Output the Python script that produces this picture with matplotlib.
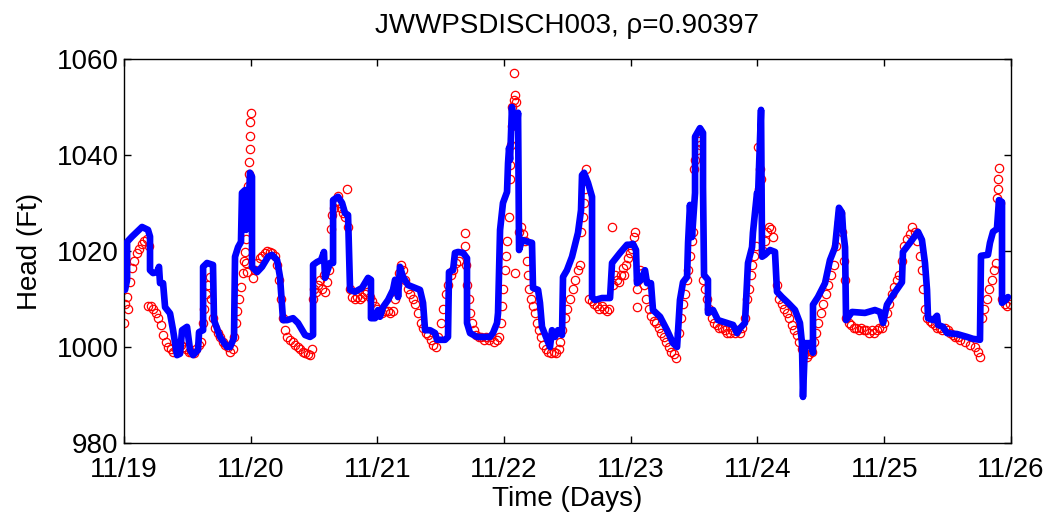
import numpy as np
import matplotlib
matplotlib.use("Agg")
import matplotlib.pyplot as plt

plt.rcParams['font.family'] = ['Liberation Sans', 'DejaVu Sans']

# Tick labels (days since 11/19)
day_ticks = [0, 1, 2, 3, 4, 5, 6, 7]
day_labels = ['11/19', '11/20', '11/21', '11/22', '11/23', '11/24', '11/25', '11/26']

# Model head (blue line): time in days, head in ft
model_t = [0.008, 0.024, 0.024, 0.063, 0.142, 0.189, 0.205, 0.205, 0.229, 0.260, 0.276,
           0.284, 0.308, 0.324, 0.363, 0.387, 0.418, 0.442, 0.458, 0.497, 0.521, 0.545,
           0.584, 0.592, 0.624, 0.624, 0.655, 0.702, 0.710, 0.758, 0.813, 0.837, 0.868,
           0.876, 0.900, 0.923, 0.931, 0.955, 0.963, 0.979, 0.994, 1.010, 1.010, 1.050,
           1.089, 1.137, 1.168, 1.208, 1.231, 1.255, 1.287, 1.334, 1.373, 1.429, 1.468,
           1.492, 1.492, 1.523, 1.555, 1.578, 1.586, 1.626, 1.650, 1.650, 1.689, 1.721,
           1.744, 1.768, 1.784, 1.823, 1.878, 1.926, 1.949, 1.949, 1.981, 2.005, 2.020,
           2.044, 2.084, 2.123, 2.139, 2.155, 2.163, 2.178, 2.202, 2.242, 2.336, 2.360,
           2.376, 2.415, 2.455, 2.470, 2.534, 2.557, 2.565, 2.597, 2.612, 2.636, 2.676,
           2.707, 2.707, 2.731, 2.786, 2.889, 2.912, 2.944, 2.952, 2.968, 2.991, 3.023,
           3.031, 3.039, 3.047, 3.062, 3.070, 3.102, 3.110, 3.118, 3.141, 3.189, 3.220,
           3.228, 3.268, 3.283, 3.299, 3.339, 3.362, 3.378, 3.402, 3.425, 3.457, 3.465,
           3.496, 3.536, 3.583, 3.607, 3.615, 3.631, 3.662, 3.694, 3.694, 3.717, 3.773,
           3.836, 3.852, 3.915, 3.970, 3.994, 4.017, 4.041, 4.049, 4.081, 4.112, 4.128,
           4.159, 4.175, 4.231, 4.286, 4.333, 4.365, 4.373, 4.388, 4.412, 4.444, 4.452,
           4.467, 4.483, 4.507, 4.507, 4.546, 4.570, 4.570, 4.578, 4.609, 4.609, 4.649,
           4.688, 4.759, 4.807, 4.838, 4.862, 4.901, 4.925, 4.957, 4.964, 4.996, 5.004,
           5.028, 5.036, 5.059, 5.099, 5.138, 5.154, 5.193, 5.241, 5.296, 5.335, 5.351,
           5.359, 5.375, 5.414, 5.438, 5.438, 5.477, 5.533, 5.572, 5.612, 5.643, 5.667,
           5.675, 5.691, 5.699, 5.746, 5.848, 5.927, 5.967, 5.991, 6.022, 6.069, 6.140,
           6.148, 6.203, 6.267, 6.298, 6.322, 6.338, 6.346, 6.385, 6.417, 6.425, 6.464,
           6.496, 6.575, 6.654, 6.701, 6.756, 6.764, 6.819, 6.835, 6.859, 6.890, 6.906,
           6.930, 6.930, 6.961, 6.977]
model_h = [1011.9, 1014.0, 1021.9, 1023.0, 1025.0, 1024.4, 1023.0, 1016.0, 1015.4, 1015.6, 1016.7,
           1013.3, 1013.3, 1008.3, 1007.0, 1003.5, 998.3, 998.6, 1003.5, 1004.2, 999.4, 998.3,
           999.4, 1003.1, 1003.5, 1016.7, 1017.5, 1017.1, 1005.6, 1002.1, 1000.0, 1000.0, 1001.9,
           1018.8, 1020.8, 1021.9, 1032.1, 1032.7, 1024.4, 1025.2, 1036.3, 1035.5, 1016.7, 1015.6,
           1016.7, 1018.8, 1019.2, 1018.1, 1014.6, 1005.6, 1005.6, 1006.0, 1005.0, 1002.5, 1002.1,
           1002.5, 1017.1, 1017.7, 1018.1, 1019.8, 1014.4, 1017.5, 1017.5, 1030.6, 1031.3, 1030.0,
           1027.9, 1027.5, 1011.9, 1011.5, 1012.3, 1014.4, 1014.0, 1006.0, 1006.0, 1007.7, 1006.3,
           1008.3, 1009.8, 1011.9, 1014.0, 1013.8, 1010.4, 1016.7, 1014.6, 1012.9, 1011.9, 1009.2,
           1003.5, 1003.5, 1002.9, 1001.5, 1001.5, 1002.1, 1015.6, 1016.0, 1019.6, 1019.8, 1019.6,
           1018.5, 1005.0, 1002.9, 1002.1, 1002.1, 1002.9, 1005.0, 1007.1, 1024.4, 1030.0, 1032.3,
           1038.3, 1041.5, 1039.0, 1050.0, 1045.8, 1046.2, 1048.8, 1020.2, 1022.3, 1021.9, 1021.7,
           1012.3, 1011.9, 1009.2, 1004.2, 1001.5, 1000.0, 1003.5, 1002.1, 1003.5, 1002.5, 1014.6,
           1016.0, 1018.8, 1023.8, 1028.5, 1035.8, 1036.3, 1034.2, 1031.3, 1010.4, 1009.8, 1010.2,
           1010.2, 1017.5, 1019.6, 1021.3, 1021.3, 1021.5, 1020.2, 1013.3, 1014.0, 1016.0, 1013.3,
           1013.3, 1007.7, 1006.3, 1003.5, 1000.8, 1000.0, 1003.5, 1009.8, 1013.5, 1014.6, 1021.7,
           1029.6, 1022.9, 1032.1, 1043.8, 1045.6, 1044.6, 1033.3, 1015.0, 1014.0, 1007.1, 1007.7,
           1005.6, 1005.0, 1004.6, 1002.9, 1003.9, 1005.0, 1017.5, 1020.8, 1023.8, 1032.1, 1031.3,
           1049.4, 1018.8, 1019.2, 1020.2, 1019.8, 1011.5, 1010.4, 1009.2, 1007.7, 1005.0, 1000.8,
           989.6, 1000.8, 1000.8, 998.8, 1008.8, 1010.4, 1013.3, 1018.1, 1020.8, 1029.0, 1028.0,
           1024.4, 1020.8, 1005.6, 1007.3, 1007.1, 1007.7, 1007.3, 1005.0, 1008.8, 1010.8, 1013.5,
           1019.8, 1021.7, 1024.0, 1022.3, 1017.5, 1011.9, 1006.0, 1005.6, 1006.5, 1004.6, 1004.2,
           1002.9, 1002.7, 1002.1, 1001.7, 1001.5, 1019.0, 1019.2, 1021.7, 1024.0, 1024.6, 1030.6,
           1030.2, 1009.2, 1009.8, 1010.4]

# Measured head (red circles)
meas_t = [0.000, 0.010, 0.020, 0.030, 0.045, 0.060, 0.080, 0.100, 0.120, 0.140, 0.160, 0.180,
          0.200, 0.190, 0.210, 0.230, 0.250, 0.270, 0.290, 0.310, 0.330, 0.350, 0.370, 0.390,
          0.410, 0.430, 0.450, 0.470, 0.490, 0.510, 0.530, 0.550, 0.570, 0.590, 0.610, 0.625,
          0.635, 0.645, 0.660, 0.675, 0.690, 0.700, 0.720, 0.740, 0.760, 0.780, 0.800, 0.820,
          0.840, 0.860, 0.870, 0.880, 0.895, 0.910, 0.925, 0.940, 0.950, 0.960, 0.965, 0.970,
          0.975, 0.980, 0.985, 0.988, 0.992, 0.996, 0.998, 1.000, 0.955, 0.965, 0.970, 1.018,
          1.030, 1.050, 1.070, 1.090, 1.110, 1.130, 1.150, 1.170, 1.190, 1.210, 1.225, 1.240,
          1.255, 1.270, 1.290, 1.310, 1.330, 1.350, 1.370, 1.390, 1.410, 1.430, 1.450, 1.470,
          1.480, 1.490, 1.500, 1.515, 1.530, 1.545, 1.560, 1.575, 1.590, 1.605, 1.615, 1.630,
          1.645, 1.660, 1.675, 1.690, 1.700, 1.715, 1.730, 1.745, 1.760, 1.770, 1.780, 1.800,
          1.820, 1.840, 1.860, 1.880, 1.900, 1.920, 1.940, 1.960, 1.980, 2.000, 2.020, 2.040,
          2.060, 2.080, 2.100, 2.120, 2.140, 2.155, 2.170, 2.185, 2.200, 2.220, 2.240, 2.260,
          2.280, 2.300, 2.320, 2.340, 2.360, 2.380, 2.400, 2.420, 2.440, 2.460, 2.480, 2.500,
          2.520, 2.540, 2.560, 2.580, 2.600, 2.620, 2.640, 2.690, 2.690, 2.700, 2.710, 2.720,
          2.730, 2.745, 2.760, 2.780, 2.800, 2.820, 2.840, 2.860, 2.880, 2.900, 2.920, 2.940,
          2.960, 2.975, 2.985, 2.995, 3.005, 3.015, 3.025, 3.035, 3.045, 3.050, 3.055, 3.060,
          3.065, 3.075, 3.085, 3.095, 3.078, 3.120, 3.135, 3.150, 3.165, 3.086, 3.180, 3.190,
          3.200, 3.215, 3.230, 3.245, 3.260, 3.275, 3.290, 3.310, 3.330, 3.350, 3.370, 3.390,
          3.410, 3.430, 3.445, 3.460, 3.480, 3.500, 3.520, 3.540, 3.560, 3.580, 3.600, 3.610,
          3.620, 3.630, 3.640, 3.650, 3.670, 3.690, 3.710, 3.730, 3.750, 3.770, 3.790, 3.810,
          3.830, 3.850, 3.860, 3.875, 3.890, 3.905, 3.920, 3.935, 3.950, 3.965, 3.980, 3.995,
          4.010, 4.025, 4.035, 4.045, 4.060, 4.075, 4.090, 4.105, 4.050, 4.120, 4.140, 4.160,
          4.180, 4.200, 4.220, 4.240, 4.260, 4.280, 4.300, 4.320, 4.340, 4.360, 4.380, 4.395,
          4.410, 4.425, 4.440, 4.455, 4.470, 4.480, 4.490, 4.500, 4.510, 4.520, 4.535, 4.550,
          4.570, 4.585, 4.600, 4.620, 4.640, 4.660, 4.680, 4.700, 4.720, 4.740, 4.760, 4.780,
          4.800, 4.820, 4.840, 4.860, 4.880, 4.900, 4.915, 4.930, 4.945, 4.960, 4.975, 4.990,
          5.000, 5.005, 5.010, 5.020, 5.030, 5.045, 5.060, 5.075, 5.090, 5.105, 5.120, 5.150,
          5.170, 5.190, 5.210, 5.230, 5.250, 5.270, 5.290, 5.310, 5.330, 5.350, 5.370, 5.390,
          5.410, 5.430, 5.445, 5.460, 5.480, 5.500, 5.520, 5.540, 5.560, 5.580, 5.600, 5.620,
          5.640, 5.655, 5.670, 5.680, 5.690, 5.700, 5.720, 5.740, 5.760, 5.780, 5.800, 5.820,
          5.840, 5.860, 5.880, 5.900, 5.920, 5.940, 5.960, 5.980, 6.000, 6.020, 6.040, 6.060,
          6.080, 6.100, 6.120, 6.140, 6.160, 6.180, 6.200, 6.220, 6.240, 6.260, 6.280, 6.295,
          6.310, 6.325, 6.340, 6.360, 6.380, 6.400, 6.420, 6.440, 6.460, 6.480, 6.500, 6.520,
          6.540, 6.560, 6.580, 6.600, 6.640, 6.680, 6.720, 6.740, 6.756, 6.770, 6.790, 6.810,
          6.830, 6.850, 6.870, 6.885, 6.890, 6.895, 6.900, 6.905, 6.915, 6.930, 6.950, 6.970,
          6.990]
meas_h = [1005.0, 1009.0, 1010.5, 1008.0, 1013.5, 1016.5, 1018.0, 1019.5, 1020.5, 1021.5, 1022.0, 1022.5,
          1021.0, 1008.5, 1008.5, 1008.0, 1007.0, 1006.0, 1004.5, 1002.5, 1001.0, 1000.0, 999.5, 999.0,
          999.5, 1000.0, 1000.5, 1000.0, 999.5, 999.0, 999.0, 998.8, 999.5, 1000.5, 1001.0, 1005.0,
          1008.0, 1011.0, 1013.0, 1014.5, 1010.0, 1006.0, 1004.0, 1003.0, 1002.0, 1001.0, 1000.5, 1000.0,
          999.0, 999.5, 1002.0, 1005.0, 1007.5, 1010.0, 1012.5, 1015.5, 1018.0, 1022.5, 1025.0, 1029.0,
          1031.0, 1033.5, 1036.0, 1038.5, 1041.3, 1044.0, 1046.9, 1048.8, 1019.8, 1017.5, 1015.6, 1014.4,
          1016.0, 1017.5, 1018.5, 1019.0, 1019.5, 1020.0, 1019.8, 1019.5, 1019.0, 1017.0, 1014.0, 1010.0,
          1006.0, 1003.5, 1002.0, 1001.5, 1001.0, 1000.5, 1000.0, 999.5, 999.0, 998.8, 998.5, 998.3,
          999.5, 1010.0, 1012.0, 1011.5, 1013.0, 1014.0, 1012.0, 1015.0, 1011.5, 1013.5, 1016.0, 1024.5,
          1027.5, 1029.0, 1030.5, 1031.5, 1030.0, 1029.0, 1028.0, 1027.0, 1033.0, 1025.0, 1012.0, 1010.5,
          1010.0, 1010.5, 1010.0, 1010.5, 1011.0, 1011.5, 1010.5, 1009.5, 1008.5, 1008.0, 1007.5, 1007.0,
          1007.5, 1007.5, 1007.0, 1007.5, 1010.0, 1013.0, 1015.5, 1017.0, 1016.0, 1014.0, 1012.0, 1011.0,
          1010.0, 1009.0, 1007.0, 1005.0, 1004.0, 1003.0, 1002.5, 1001.5, 1000.5, 1000.0, 1002.0, 1005.0,
          1008.0, 1011.0, 1013.0, 1015.0, 1016.0, 1017.5, 1018.0, 1023.7, 1021.0, 1017.0, 1013.0, 1010.0,
          1007.0, 1005.0, 1003.5, 1002.5, 1002.0, 1002.0, 1001.5, 1002.0, 1001.5, 1002.0, 1001.0, 1001.5,
          1002.0, 1005.0, 1008.5, 1012.0, 1016.0, 1019.0, 1022.0, 1027.0, 1035.0, 1038.0, 1042.0, 1046.0,
          1050.0, 1051.5, 1052.5, 1051.0, 1057.1, 1024.0, 1025.0, 1023.5, 1022.0, 1015.4, 1018.0, 1015.0,
          1012.0, 1010.0, 1008.5, 1007.0, 1005.0, 1003.5, 1002.0, 1000.5, 999.5, 999.0, 998.7, 999.0,
          998.7, 999.5, 1001.0, 1003.5, 1006.0, 1008.0, 1010.0, 1012.0, 1014.0, 1016.0, 1017.0, 1024.0,
          1027.0, 1030.0, 1033.0, 1037.0, 1010.0, 1009.5, 1009.0, 1008.5, 1008.0, 1008.5, 1008.0, 1007.5,
          1008.0, 1025.0, 1013.0, 1015.0, 1014.0, 1013.5, 1015.0, 1016.5, 1015.0, 1017.0, 1018.5, 1019.5,
          1020.5, 1023.0, 1024.0, 1012.0, 1014.0, 1016.0, 1015.5, 1013.0, 1008.3, 1010.0, 1008.0, 1006.5,
          1005.5, 1005.0, 1004.0, 1003.0, 1002.0, 1001.0, 1000.0, 999.0, 998.5, 997.7, 1003.0, 1006.0,
          1009.0, 1011.0, 1014.0, 1016.0, 1019.0, 1022.0, 1024.0, 1037.0, 1039.0, 1041.0, 1043.0, 1042.0,
          1014.0, 1012.0, 1010.0, 1008.0, 1006.0, 1005.0, 1004.5, 1004.0, 1004.0, 1003.5, 1003.0, 1003.0,
          1003.5, 1003.0, 1003.5, 1003.0, 1004.0, 1006.0, 1010.0, 1012.0, 1015.0, 1017.0, 1019.0, 1021.0,
          1029.0, 1041.7, 1033.0, 1037.0, 1035.0, 1020.0, 1022.0, 1024.0, 1025.0, 1024.5, 1023.0, 1013.0,
          1010.0, 1009.0, 1008.0, 1007.0, 1006.0, 1004.5, 1003.5, 1002.5, 1001.0, 999.5, 998.5, 998.0,
          998.5, 999.0, 1001.0, 1003.0, 1005.0, 1007.0, 1009.0, 1011.0, 1013.0, 1015.0, 1017.0, 1021.0,
          1026.0, 1028.0, 1024.0, 1018.0, 1014.0, 1006.0, 1005.0, 1004.5, 1004.0, 1004.0, 1003.5, 1004.0,
          1003.5, 1003.5, 1003.0, 1003.5, 1003.0, 1003.5, 1004.0, 1004.0, 1005.0, 1007.0, 1009.0, 1011.0,
          1012.5, 1014.0, 1015.0, 1018.0, 1021.0, 1022.5, 1023.5, 1025.0, 1024.0, 1022.0, 1019.0, 1016.0,
          1012.0, 1008.0, 1006.0, 1005.5, 1005.0, 1004.5, 1004.0, 1004.0, 1003.5, 1004.0, 1003.5, 1003.0,
          1002.5, 1002.0, 1002.0, 1001.5, 1001.0, 1000.5, 1000.0, 999.0, 998.0, 1006.0, 1008.0, 1010.0,
          1012.0, 1014.0, 1016.0, 1017.5, 1031.0, 1033.0, 1035.0, 1037.3, 1030.0, 1010.0, 1009.0, 1008.5,
          1009.0]

title = 'JWWPSDISCH003, \u03c1=0.90397'

fig = plt.figure(figsize=(10.53, 5.21), dpi=100)
ax = fig.add_axes([0.1178, 0.1497, 0.8422, 0.7371])

ax.plot(meas_t, meas_h, 'o', markerfacecolor='none', markeredgecolor='red',
        markersize=6, markeredgewidth=0.9, zorder=2)
ax.plot(model_t, model_h, '-', color='blue', linewidth=4.8, zorder=3,
        solid_joinstyle='round', solid_capstyle='round')

ax.set_xlim(0, 7)
ax.set_ylim(980, 1060)
ax.set_xticks(day_ticks)
ax.set_xticklabels(day_labels)
ax.set_yticks([980, 1000, 1020, 1040, 1060])
ax.tick_params(direction='in', length=5, width=1, top=True, right=True,
               labelsize=20)
ax.tick_params(axis='x', pad=10)
ax.tick_params(axis='y', pad=4)
for s in ax.spines.values():
    s.set_linewidth(1.0)
ax.set_xlabel('Time (Days)', fontsize=20, labelpad=2)
ax.set_ylabel('Head (Ft)', fontsize=20, labelpad=10)
ax.set_title(title, fontsize=20, pad=19)

fig.savefig('out.png', dpi=100)
